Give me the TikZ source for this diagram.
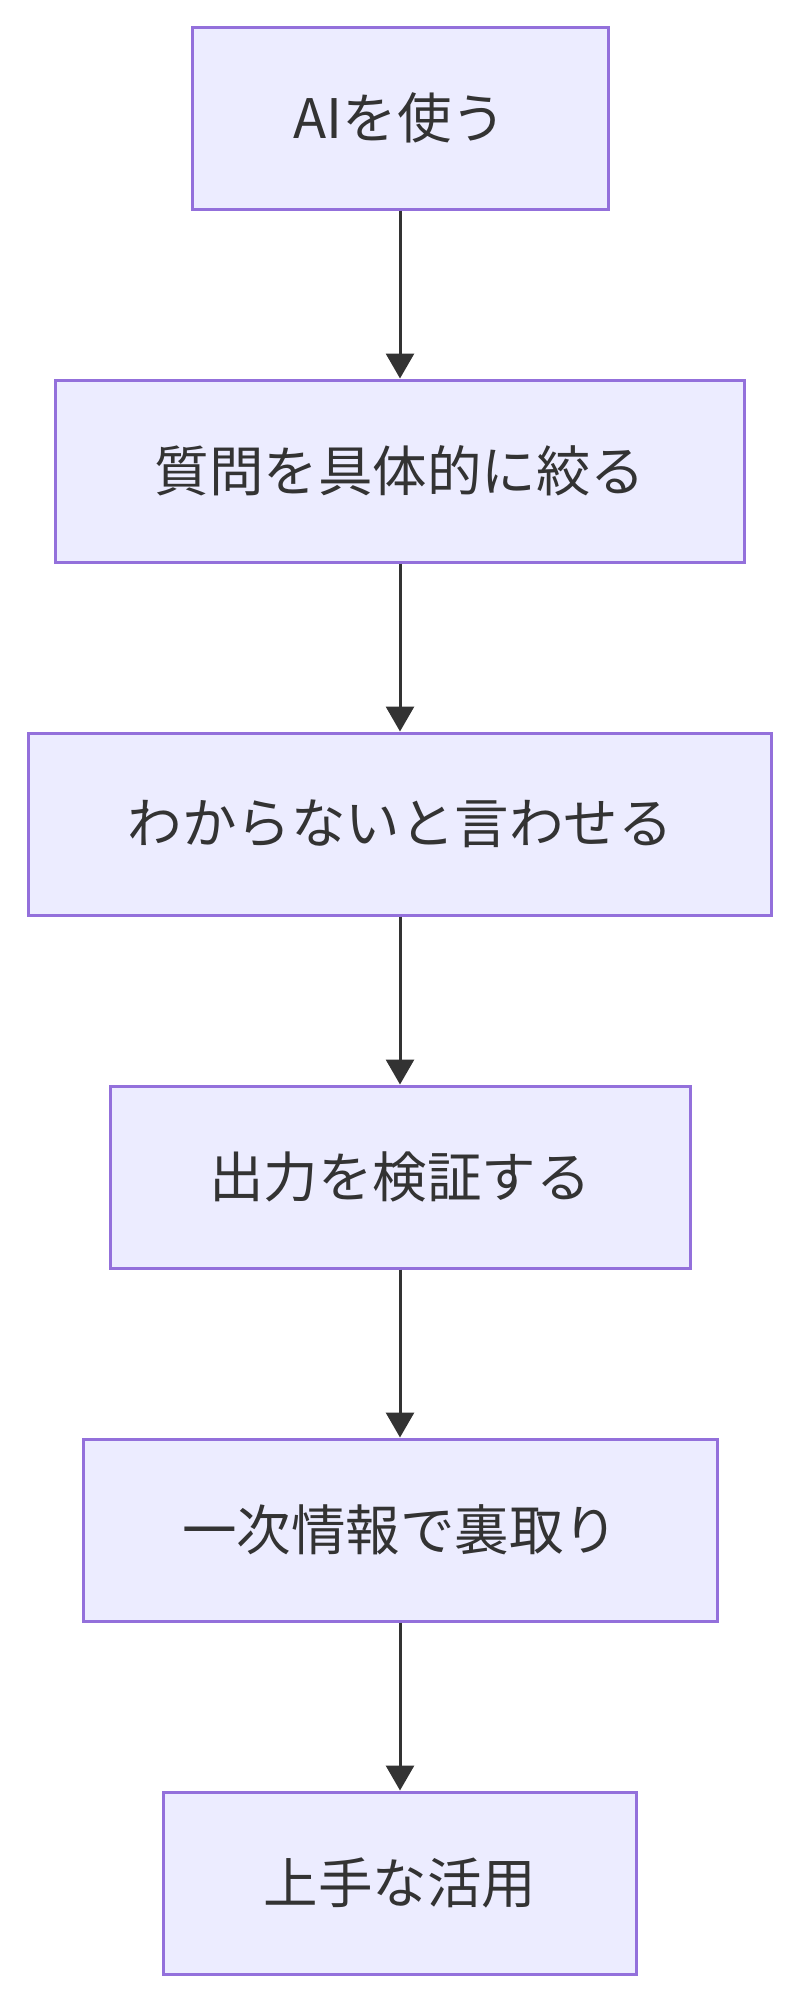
\documentclass[tikz,border=0pt]{standalone}
\usepackage{fontspec}
\setmainfont{Noto Sans CJK JP}
\usepackage{xcolor}
\usepackage{tikz}
\usetikzlibrary{positioning,arrows.meta}
\definecolor{boxfill}{HTML}{ECECFF}
\definecolor{boxline}{HTML}{9370DB}
\definecolor{ink}{HTML}{333333}

\begin{document}
\begin{tikzpicture}[x=1pt, y=-1pt, node distance=168pt,
  stepbox/.style={rectangle, draw=boxline, fill=boxfill, line width=3pt,
    minimum height=182pt, text=ink, font=\fontsize{54.5}{64}\selectfont},
  flow/.style={draw=ink, line width=3pt, -{Triangle[length=25pt, width=28pt]}}]
  \useasboundingbox (0, 0) rectangle (800, 2000);

  \node[stepbox, minimum width=416pt] (useai) at (400, 118) {AIを使う};
  \node[stepbox, minimum width=689pt, below=of useai] (narrow) {質問を具体的に絞る};
  \node[stepbox, minimum width=743pt, below=of narrow] (unknown) {わからないと言わせる};
  \node[stepbox, minimum width=580pt, below=of unknown] (verify) {出力を検証する};
  \node[stepbox, minimum width=634pt, below=of verify] (source) {一次情報で裏取り};
  \node[stepbox, minimum width=473pt, below=of source] (goal) {上手な活用};

  \draw[flow] (useai) -- (narrow);
  \draw[flow] (narrow) -- (unknown);
  \draw[flow] (unknown) -- (verify);
  \draw[flow] (verify) -- (source);
  \draw[flow] (source) -- (goal);
\end{tikzpicture}
\end{document}
